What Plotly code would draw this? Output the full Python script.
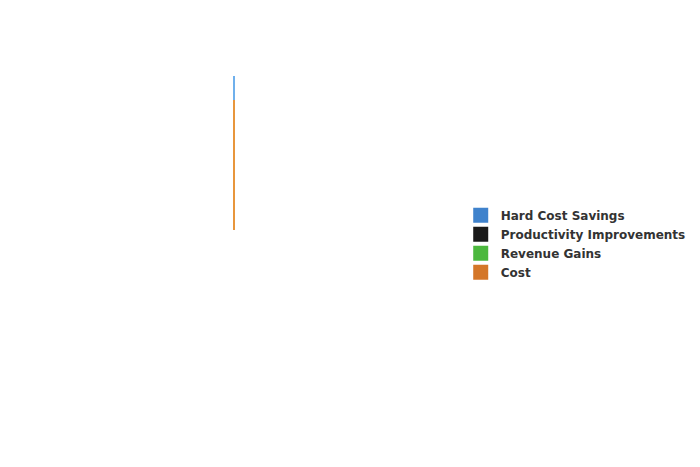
import plotly.graph_objects as go

# single (unlabelled) category, stacked series
categories = [""]
series_names = ["Hard Cost Savings", "Productivity Improvements", "Revenue Gains", "Cost"]
hard_cost_savings = [1.0]
productivity = [0.0]
revenue_gains = [0.0]
cost = [5.2]

bar_colors = ["#6fb0ec", "#1c1c1c", "#52c040", "#e8963c"]
legend_colors = ["#3f82cc", "#1a1a1a", "#4cb83e", "#d47628"]

fig = go.Figure()

# draw order: cost at the bottom, savings stacked on top
stack = [
    ("Cost", cost, 3),
    ("Revenue Gains", revenue_gains, 2),
    ("Productivity Improvements", productivity, 1),
    ("Hard Cost Savings", hard_cost_savings, 0),
]
for name, vals, i in stack:
    fig.add_trace(go.Bar(
        x=categories, y=vals, name=name,
        marker=dict(color=bar_colors[i], line=dict(width=0)),
        width=0.005,
        showlegend=False,
    ))

# legend entries with the darker, larger swatches
for i, name in enumerate(series_names):
    fig.add_trace(go.Scatter(
        x=categories, y=[None], name=name, mode="markers",
        marker=dict(symbol="square", size=15, color=legend_colors[i],
                    line=dict(width=0)),
    ))

fig.update_layout(
    barmode="stack",
    paper_bgcolor="white",
    plot_bgcolor="white",
    margin=dict(l=8, r=240, t=20, b=20, autoexpand=False),
    xaxis=dict(visible=False, range=[-0.5, 0.5]),
    yaxis=dict(visible=False, range=[-8.4, 8.12]),
    legend=dict(
        x=1.02, y=0.474, xanchor="left", yanchor="middle",
        traceorder="normal",
        font=dict(family="DejaVu Sans", size=12, color="#333333", weight="bold"),
        tracegroupgap=0, itemsizing="trace",
        bgcolor="rgba(0,0,0,0)",
    ),
    showlegend=True,
)

fig.write_html("out.html")
